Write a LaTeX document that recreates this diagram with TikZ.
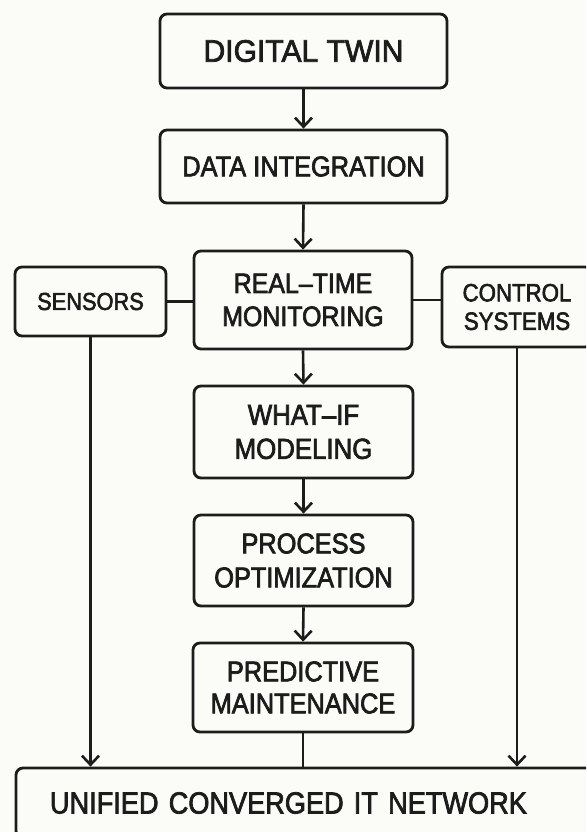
\documentclass[tikz,border=0pt]{standalone}
\usepackage{fontspec}
\setmainfont[FakeStretch=0.89,FakeBold=2.4]{Liberation Sans}
\newfontfamily\dtfont[FakeStretch=0.97,FakeBold=2.4]{Liberation Sans}
\usetikzlibrary{arrows.meta}
\definecolor{bg}{HTML}{FBFBF8}
\definecolor{ink}{HTML}{1C1C1C}
\tikzset{
  box/.style={draw=ink, line width=2.8pt, rounded corners=7pt, fill=bg,
    text=ink, align=center, inner sep=0pt},
  conn/.style={draw=ink, line width=2.6pt},
  arr/.style={conn, -{Straight Barb[length=9pt,width=17pt]}},
}
\newcommand{\fs}[2]{\fontsize{#1}{#2}\selectfont}
\begin{document}
\begin{tikzpicture}[x=1pt,y=-1pt]
\clip (0,0) rectangle (586,832);
\fill[bg] (0,0) rectangle (586,832);

\node[box, minimum width=287pt, minimum height=74pt, font=\dtfont\fs{31}{36}] (dt) at (303.5,51) {DIGITAL TWIN};
\node[box, minimum width=287pt, minimum height=73pt, font=\fs{28.5}{34}] (di) at (303.5,166.5) {DATA INTEGRATION};
\node[box, minimum width=218pt, minimum height=98pt, font=\fs{28}{33}] (rt) at (303,300) {REAL–TIME\\MONITORING};
\node[box, minimum width=151pt, minimum height=69pt, font=\fs{24.5}{30}] (sens) at (90.5,301.5) {SENSORS};
\node[box, minimum width=150pt, minimum height=80pt, font=\fs{25}{28.5}] (ctrl) at (517,307) {CONTROL\\SYSTEMS};
\node[box, minimum width=219pt, minimum height=92pt, font=\fs{29}{34}] (wi) at (303.5,432) {WHAT–IF\\MODELING};
\node[box, minimum width=219pt, minimum height=91pt, font=\fs{28.5}{34}] (po) at (303.5,560.5) {PROCESS\\OPTIMIZATION};
\node[box, minimum width=220pt, minimum height=89pt, font=\fs{28.5}{32}] (pm) at (303,687.5) {PREDICTIVE\\MAINTENANCE};
\node[box, minimum height=70pt, text width=516pt, inner xsep=34pt, align=left, font=\fs{30.5}{36}] (un) at (308,803) {UNIFIED CONVERGED IT NETWORK};

\draw[arr] (dt.south) -- (di.north);
\draw[arr] (di.south) -- (rt.north);
\draw[arr] (rt.south) -- (wi.north);
\draw[arr] (wi.south) -- (po.north);
\draw[arr] (po.south) -- (pm.north);
\draw[conn] (pm.south) -- (pm.south |- un.north);
\draw[conn] (sens.east) -- (sens.east -| rt.west);
\draw[conn] (rt.east) -- (rt.east -| ctrl.west);
\draw[arr] (sens.south) -- (sens.south |- un.north);
\draw[arr] (ctrl.south) -- (ctrl.south |- un.north);
\end{tikzpicture}
\end{document}
